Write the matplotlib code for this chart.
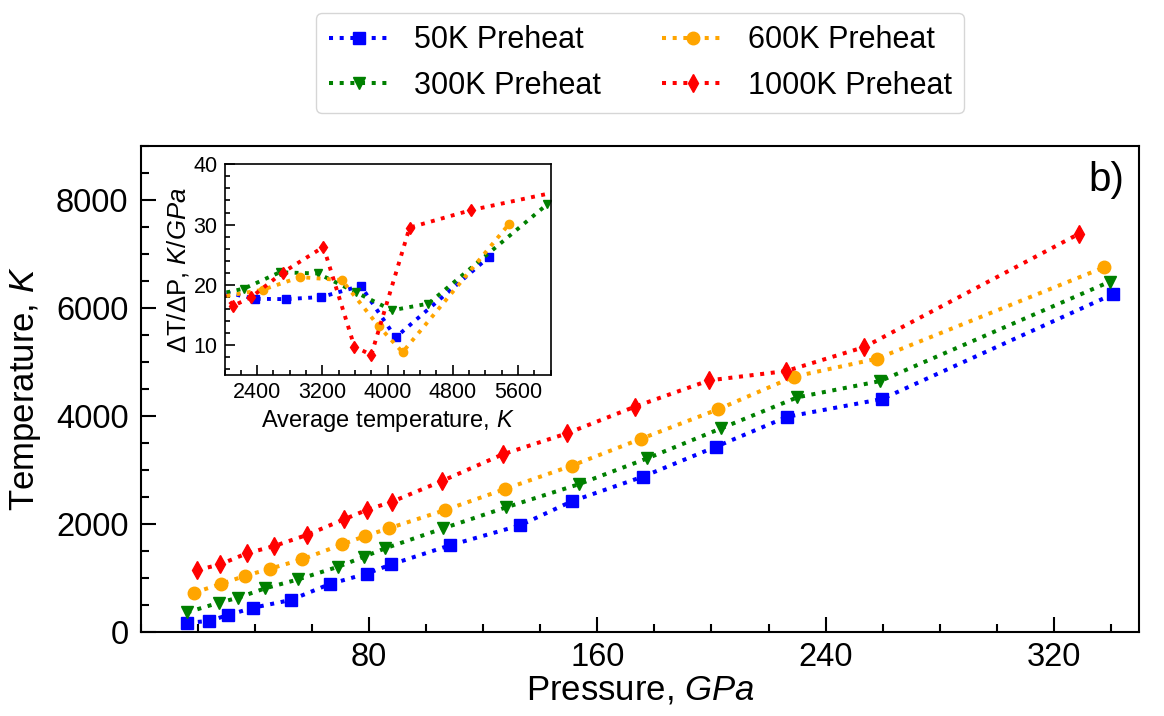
import matplotlib
matplotlib.use("Agg")
import matplotlib.pyplot as plt
from matplotlib.ticker import MultipleLocator

plt.rcParams['font.family'] = ['Liberation Sans', 'DejaVu Sans']
plt.rcParams['mathtext.fontset'] = 'custom'
plt.rcParams['mathtext.rm'] = 'Liberation Sans'
plt.rcParams['mathtext.it'] = 'Liberation Sans:italic'
plt.rcParams['mathtext.bf'] = 'Liberation Sans:bold'

# ---------------- data ----------------
series_labels = ['50K Preheat', '300K Preheat', '600K Preheat', '1000K Preheat']
colors = ['blue', 'green', 'orange', 'red']
markers = ['s', 'v', 'o', 'd']

# main panel: pressure (GPa) vs temperature (K)
p_50 = [16.2, 23.9, 30.6, 39.4, 52.5, 66.2, 79.1, 87.8, 108.3, 132.9, 151.0, 175.9, 201.6, 226.6, 259.8, 340.6]
t_50 = [172, 204, 315, 450, 592, 888, 1080, 1252, 1604, 1974, 2418, 2874, 3429, 3984, 4312, 6249]

p_300 = [16.2, 27.4, 34.1, 43.5, 55.2, 69.2, 78.2, 85.6, 106.0, 128.0, 153.4, 177.5, 203.4, 230.1, 259.2, 339.6]
t_300 = [364, 543, 635, 808, 975, 1209, 1394, 1548, 1919, 2307, 2733, 3214, 3769, 4343, 4645, 6482]

p_600 = [18.6, 28.0, 36.3, 45.3, 56.5, 70.6, 78.6, 86.9, 106.7, 127.6, 151.0, 175.4, 202.3, 228.8, 258.0, 337.6]
t_600 = [728, 888, 1036, 1172, 1345, 1623, 1777, 1919, 2258, 2646, 3078, 3577, 4121, 4724, 5058, 6748]

p_1000 = [19.8, 27.7, 37.1, 46.7, 58.1, 71.2, 79.1, 88.0, 105.5, 126.8, 149.4, 173.1, 199.2, 226.2, 253.6, 328.9]
t_1000 = [1147, 1250, 1456, 1591, 1795, 2085, 2258, 2411, 2794, 3288, 3677, 4169, 4657, 4830, 5274, 7371]

# inset: average temperature (K) vs dT/dP (K/GPa)
ta_50 = [1900, 2375, 2756, 3189, 3671, 4098, 5249]
g_50 = [19.1, 17.7, 17.65, 18.0, 19.85, 11.3, 24.7]

ta_300 = [1900, 2240, 2678, 3146, 3609, 4054, 4500, 5962]
g_300 = [18.4, 19.4, 22.1, 21.9, 18.8, 15.8, 16.9, 33.4]

ta_600 = [1900, 2469, 2924, 3440, 3889, 4184, 5491]
g_600 = [17.9, 19.2, 21.3, 20.8, 13.2, 8.85, 30.1]

ta_1000 = [1900, 2108, 2330, 2713, 3214, 3593, 3800, 4270, 5025, 6100]
g_1000 = [19.8, 16.55, 18.0, 22.05, 26.3, 9.8, 8.4, 29.5, 32.4, 35.5]

main_p = [p_50, p_300, p_600, p_1000]
main_t = [t_50, t_300, t_600, t_1000]
ins_t = [ta_50, ta_300, ta_600, ta_1000]
ins_g = [g_50, g_300, g_600, g_1000]

x_major_ticks = [80, 160, 240, 320]

# ---------------- figure ----------------
fig = plt.figure(figsize=(11.64, 7.16), dpi=100)
ax = fig.add_axes([0.1211, 0.1173, 0.8577, 0.6792])

handles = []
for px, ty, c, m, lab in zip(main_p, main_t, colors, markers, series_labels):
    h, = ax.plot(px, ty, ls=':', lw=2.9, color=c, marker=m, ms=9, label=lab)
    handles.append(h)

ax.set_xlim(0, 350)
ax.set_ylim(0, 9000)
ax.set_xticks(x_major_ticks)
ax.xaxis.set_minor_locator(MultipleLocator(20))
ax.yaxis.set_major_locator(MultipleLocator(2000))
ax.yaxis.set_minor_locator(MultipleLocator(500))
ax.tick_params(which='both', direction='in', top=False, right=False, width=1.5)
ax.tick_params(which='major', length=11, labelsize=23.5)
ax.tick_params(axis='x', which='major', pad=7.5)
ax.tick_params(axis='y', which='major', pad=9)
ax.tick_params(which='minor', length=5.5)
for s in ax.spines.values():
    s.set_linewidth(1.5)
ax.set_xlabel('Pressure, $GPa$', fontsize=25, labelpad=0)
ax.set_ylabel('Temperature, $K$', fontsize=25, labelpad=9)

ax.text(0.985, 0.968, 'b)', transform=ax.transAxes, ha='right', va='top', fontsize=29)

ax.legend(handles=handles, ncol=2, loc='lower center', bbox_to_anchor=(0.5, 1.036),
          fontsize=22, frameon=True)

# ---------------- inset ----------------
ins = fig.add_axes([0.1929, 0.4756, 0.2801, 0.2950])
for tx, gy, c, m in zip(ins_t, ins_g, colors, markers):
    ins.plot(tx, gy, ls=':', lw=2.8, color=c, marker=m, ms=6)
ins.set_xlim(2000, 6000)
ins.set_ylim(5, 40)
ins.xaxis.set_major_locator(MultipleLocator(800))
ins.xaxis.set_minor_locator(MultipleLocator(200))
ins.yaxis.set_major_locator(MultipleLocator(10))
ins.yaxis.set_minor_locator(MultipleLocator(2))
ins.tick_params(which='both', direction='in', top=False, right=False, width=1.2)
ins.tick_params(which='major', length=7, labelsize=15.5, pad=5)
ins.tick_params(which='minor', length=3.5)
for s in ins.spines.values():
    s.set_linewidth(1.2)
ins.set_xlabel('Average temperature, $K$', fontsize=17, labelpad=3)
ins.set_ylabel('ΔT/ΔP, $K/GPa$', fontsize=18.5, labelpad=2)

fig.savefig('out.png', dpi=100)
